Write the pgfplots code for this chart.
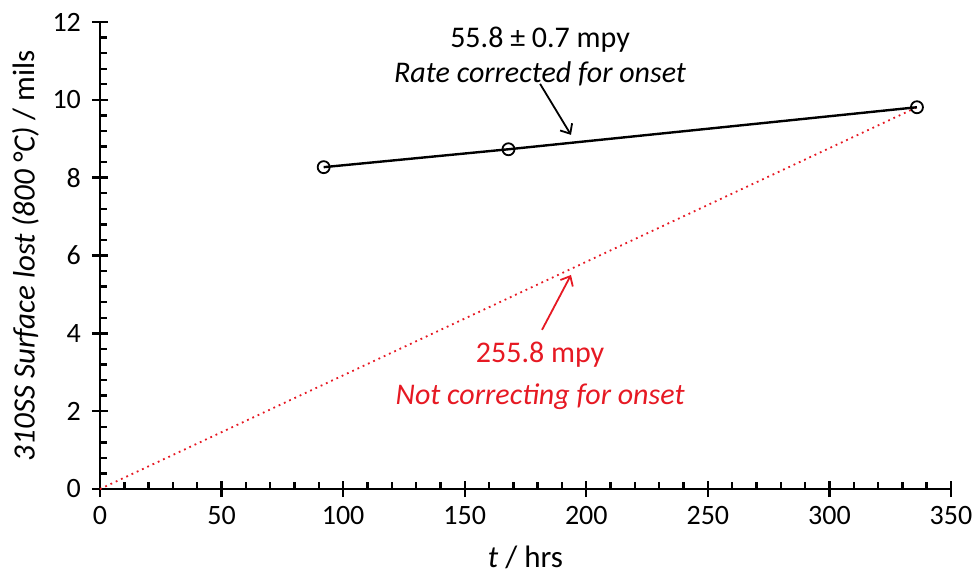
\documentclass[border=0pt]{standalone}
\usepackage{pgfplots}
\pgfplotsset{compat=1.18}
\usetikzlibrary{arrows.meta}
\usepackage{fontspec}
\setmainfont{Carlito}
\definecolor{redc}{RGB}{230,25,35}
\begin{document}
\begin{tikzpicture}
\begin{axis}[
  name=ax,
  scale only axis,
  width=425.5pt, height=233.5pt,
  xmin=0, xmax=350, ymin=0, ymax=12,
  axis lines=left,
  axis line style={-, line width=1.4pt, black},
  xtick={0,50,...,350}, ytick={0,2,...,12},
  minor x tick num=4, minor y tick num=4,
  tick align=inside,
  tick style={line width=1.2pt, black},
  major tick length=8pt,
  minor tick length=3.5pt,
  major x tick style={yshift=-4pt},
  major y tick style={xshift=-4pt},
  /pgf/number format/assume math mode=true,
  ticklabel style={font=\fontsize{14}{16}\selectfont},
  xticklabel style={yshift=-5pt},
  yticklabel style={xshift=-6pt},
  xlabel={\textit{t} / hrs},
  ylabel={\textit{310SS Surface lost (800 °C)} / mils},
  label style={font=\fontsize{15.5}{18}\selectfont},
  xlabel style={yshift=-4pt},
  clip=false,
]
\addplot[redc, dotted, line width=0.9pt] coordinates {(0,0) (336,9.81)};
\addplot[black, line width=1.2pt, mark=o, mark size=3pt, mark options={line width=0.9pt, fill=white}] coordinates {(92,8.27) (168,8.73) (336,9.81)};
\draw[-{Straight Barb[length=4pt,width=7pt]}, line width=0.9pt, black] (axis cs:181,10.41) -- (axis cs:193.7,9.10);
\draw[-{Straight Barb[length=4pt,width=7pt]}, line width=0.9pt, redc] (axis cs:181.8,4.09) -- (axis cs:193.7,5.50);
\node[font=\fontsize{15}{18}\selectfont] at (axis cs:181,11.54) {55.8 ± 0.7 mpy};
\node[font=\fontsize{15}{18}\selectfont\itshape] at (axis cs:181,10.67) {Rate corrected for onset};
\node[font=\fontsize{15}{18}\selectfont, text=redc] at (axis cs:181,3.44) {255.8 mpy};
\node[font=\fontsize{15}{18}\selectfont\itshape, text=redc] at (axis cs:181,2.37) {Not correcting for onset};
\end{axis}
\pgfresetboundingbox
\path ([xshift=-50pt,yshift=-43pt]ax.origin) rectangle ([xshift=437.5pt,yshift=244.5pt]ax.origin);
\end{tikzpicture}
\end{document}
